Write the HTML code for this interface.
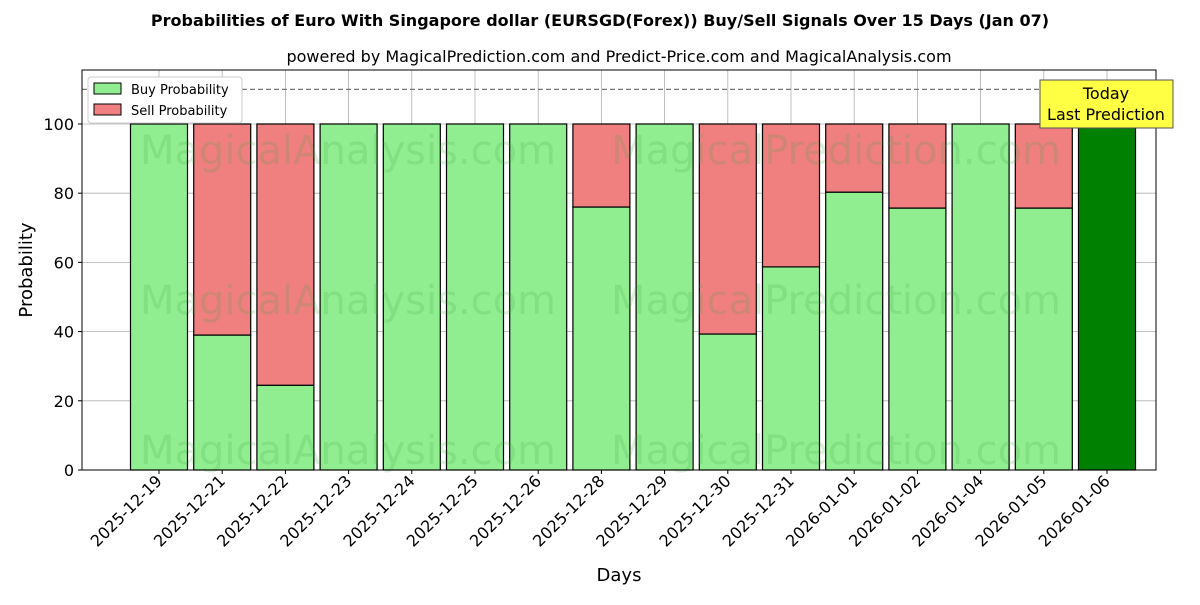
<!DOCTYPE html>
<html><head><meta charset="utf-8"><style>
body{margin:0;background:#fff;font-family:"Liberation Sans","DejaVu Sans",sans-serif;}
svg text{font-family:"DejaVu Sans","Liberation Sans",sans-serif;}
</style></head><body>
<svg id="chart" width="1200" height="600" xmlns="http://www.w3.org/2000/svg"></svg>
<script>
const categories=["2025-12-19","2025-12-21","2025-12-22","2025-12-23","2025-12-24","2025-12-25","2025-12-26","2025-12-28","2025-12-29","2025-12-30","2025-12-31","2026-01-01","2026-01-02","2026-01-04","2026-01-05","2026-01-06"];
const buyValues=[100,39,24.5,100,100,100,100,76,100,39.3,58.7,80.3,75.7,100,75.7,100];
const sellValues=[0,61,75.5,0,0,0,0,24,0,60.7,41.3,19.7,24.3,0,24.3,0];
const yTicks=[0,20,40,60,80,100];
const NS="http://www.w3.org/2000/svg";
const svg=document.getElementById('chart');
const L=82,R=1156,T=70,B=470,YMAX=115.6;
const step=63.2,x0=159,bw=57;
function xs(i){return x0+i*step;}
function ys(v){return B-(v/YMAX)*(B-T);}
function el(tag,attrs,parent){const e=document.createElementNS(NS,tag);for(const k in attrs)e.setAttribute(k,attrs[k]);(parent||svg).appendChild(e);return e;}
function txt(s,attrs){const t=el('text',attrs);t.textContent=s;return t;}
let t=txt("Probabilities of Euro With Singapore dollar (EURSGD(Forex)) Buy/Sell Signals Over 15 Days (Jan 07)",{x:600,y:26,'text-anchor':'middle','font-size':16,'font-weight':'bold'});

t=txt("powered by MagicalPrediction.com and Predict-Price.com and MagicalAnalysis.com",{x:619,y:62,'text-anchor':'middle','font-size':16});

yTicks.forEach(v=>{const g=el('line',{x1:L,x2:R,y1:ys(v),y2:ys(v),stroke:'#b0b0b0','stroke-width':0.8});

const tl=txt(String(v),{x:L-8,y:ys(v)+6,'text-anchor':'end','font-size':16});

el('line',{x1:L-4,x2:L,y1:ys(v),y2:ys(v),stroke:'#000'});});
categories.forEach((c,i)=>{const g=el('line',{x1:xs(i),x2:xs(i),y1:T,y2:B,stroke:'#b0b0b0','stroke-width':0.8});
});
categories.forEach((c,i)=>{
const last=i===categories.length-1;
const b=el('rect',{x:xs(i)-bw/2,y:ys(buyValues[i]),width:bw,height:ys(0)-ys(buyValues[i]),fill:last?'#008000':'#90ee90',stroke:'#000','stroke-width':1.2});

if(sellValues[i]>0){const s=el('rect',{x:xs(i)-bw/2,y:ys(buyValues[i]+sellValues[i]),width:bw,height:ys(buyValues[i])-ys(buyValues[i]+sellValues[i]),fill:'#f08080',stroke:'#000','stroke-width':1.2});
}
el('line',{x1:xs(i),x2:xs(i),y1:B,y2:B+4,stroke:'#000'});
const xl=txt(c,{x:0,y:0,'text-anchor':'end','font-size':16,transform:`translate(${xs(i)+4},${B+12}) rotate(-45)`});

});
[[348,150],[836,150],[348,300],[836,300],[348,450],[836,450]].forEach((p,k)=>{
const w=txt(k%2?"MagicalPrediction.com":"MagicalAnalysis.com",{x:p[0],y:p[1]+14,'text-anchor':'middle','font-size':40,fill:'rgba(60,160,60,0.18)'});
});
const d=el('line',{x1:L,x2:R,y1:ys(110),y2:ys(110),stroke:'#777','stroke-width':1.2,'stroke-dasharray':'5,3'});

const f=el('rect',{x:L,y:T,width:R-L,height:B-T,fill:'none',stroke:'#000','stroke-width':1});

t=txt("Days",{x:619,y:581,'text-anchor':'middle','font-size':18});
t=txt("Probability",{x:0,y:0,'text-anchor':'middle','font-size':18,transform:'translate(32,270) rotate(-90)'});
const lg=el('g',{});
el('rect',{x:88,y:77,width:154,height:46,fill:'#fff',stroke:'#ccc',rx:3},lg);
el('rect',{x:94,y:83,width:27,height:11,fill:'#90ee90',stroke:'#000'},lg);
el('rect',{x:94,y:104,width:27,height:11,fill:'#f08080',stroke:'#000'},lg);
let a=el('text',{x:131,y:94,'font-size':13},lg);a.textContent="Buy Probability";
a=el('text',{x:131,y:115,'font-size':13},lg);a.textContent="Sell Probability";
const an=el('g',{});
el('rect',{x:1040,y:80,width:133,height:48,fill:'#ffff44',stroke:'#555'},an);
a=el('text',{x:1106,y:99,'text-anchor':'middle','font-size':16},an);a.textContent="Today";
a=el('text',{x:1106,y:120,'text-anchor':'middle','font-size':16},an);a.textContent="Last Prediction";
</script>
</body></html>
